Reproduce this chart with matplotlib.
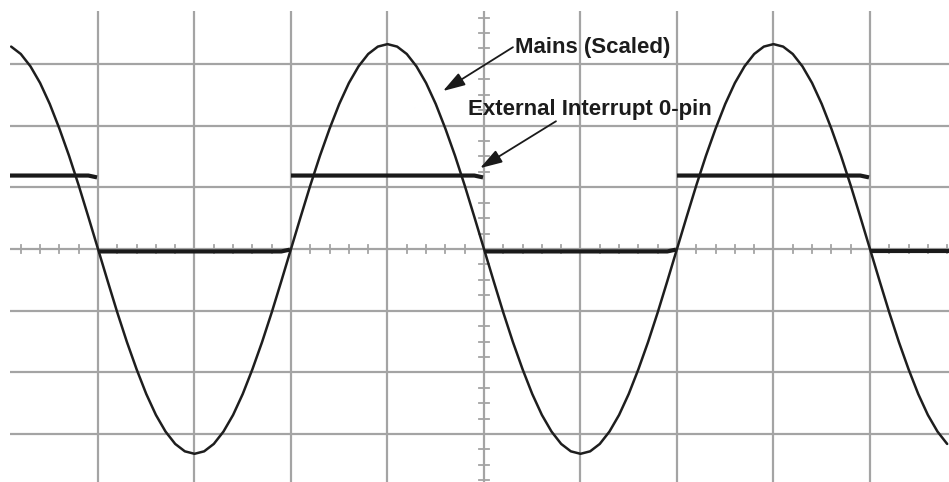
import matplotlib
matplotlib.use("Agg")
import matplotlib.pyplot as plt
import numpy as np

# ---- data (units: scope divisions) ----
# Mains trace sampled every 0.1 div from -4.9 to 4.8
mains_t = np.round(np.arange(-4.9, 4.85, 0.1), 1)
mains_v = [
    3.28, 3.16, 2.96, 2.69, 2.35, 1.95, 1.51, 1.03, 0.52,
    0.00, -0.52, -1.03, -1.51, -1.95, -2.35, -2.69, -2.96, -3.16, -3.28,
    -3.32, -3.28, -3.16, -2.96, -2.69, -2.35, -1.95, -1.51, -1.03, -0.52,
    0.00, 0.52, 1.03, 1.51, 1.95, 2.35, 2.69, 2.96, 3.16, 3.28,
    3.32, 3.28, 3.16, 2.96, 2.69, 2.35, 1.95, 1.51, 1.03, 0.52,
    0.00, -0.52, -1.03, -1.51, -1.95, -2.35, -2.69, -2.96, -3.16, -3.28,
    -3.32, -3.28, -3.16, -2.96, -2.69, -2.35, -1.95, -1.51, -1.03, -0.52,
    0.00, 0.52, 1.03, 1.51, 1.95, 2.35, 2.69, 2.96, 3.16, 3.28,
    3.32, 3.28, 3.16, 2.96, 2.69, 2.35, 1.95, 1.51, 1.03, 0.52,
    0.00, -0.52, -1.03, -1.51, -1.95, -2.35, -2.69, -2.96, -3.16,
]

# External interrupt pin: piecewise-constant segments
int_start = [-5.0, -4.0, -2.0, 0.0, 2.0, 4.0]
int_end = [-4.0, -2.0, 0.0, 2.0, 4.0, 5.0]
int_level = [1.19, -0.04, 1.19, -0.04, 1.19, -0.04]
int_end_level = [1.16, -0.01, 1.16, -0.01, 1.16, -0.04]

label_mains = "Mains (Scaled)"
label_int = "External Interrupt 0-pin"

# ---- figure ----
W, H = 949, 482
fig = plt.figure(figsize=(W / 100, H / 100), dpi=100)
ax = fig.add_axes([10 / W, 0, 939 / W, 471 / H])
ax.set_xlim(-4.912, 4.819)
ax.set_ylim(-3.777, 3.857)
ax.axis("off")

grid_c = "#a4a4a4"
for gx in range(-4, 5):
    ax.axvline(gx, color=grid_c, lw=1.6, zorder=1)
for gy in range(-3, 4):
    ax.axhline(gy, color=grid_c, lw=1.6, zorder=1)

# minor ticks on the centre axes
for k in range(-25, 26):
    xv = k * 0.2
    if k % 5 != 0:
        ax.plot([xv, xv], [-0.065, 0.065], color=grid_c, lw=1.3, zorder=1)
for k in range(-16, 17):
    yv = k * 0.25
    if k % 4 != 0:
        ax.plot([-0.052, 0.052], [yv, yv], color=grid_c, lw=1.3, zorder=1)

# traces
ax.plot(mains_t, mains_v, color="#1e1e1e", lw=1.8, zorder=3,
        solid_capstyle="round", solid_joinstyle="round")
for s, e, lv, le in zip(int_start, int_end, int_level, int_end_level):
    ax.plot([s, e - 0.1, e - 0.01], [lv, lv, le], color="#1a1a1a", lw=3.0,
            zorder=3, solid_capstyle="butt", solid_joinstyle="round")

# annotations
font = dict(family=["Liberation Sans", "DejaVu Sans"], fontsize=16,
            fontweight="bold", color="#1c1c1c")
ax.text(0.321, 3.177, label_mains, ha="left", va="baseline", zorder=4, **font)
ax.text(-0.166, 2.172, label_int, ha="left", va="baseline", zorder=4, **font)

arrow = dict(arrowstyle="-|>,head_length=0.9,head_width=0.28", lw=1.3,
             color="#1a1a1a", shrinkA=0, shrinkB=0, mutation_scale=15)
ax.annotate("", xy=(-0.425, 2.56), xytext=(0.30, 3.27), arrowprops=arrow,
            zorder=4)
ax.annotate("", xy=(-0.041, 1.31), xytext=(0.746, 2.07), arrowprops=arrow,
            zorder=4)

fig.savefig("out.png", dpi=100, facecolor="white")
